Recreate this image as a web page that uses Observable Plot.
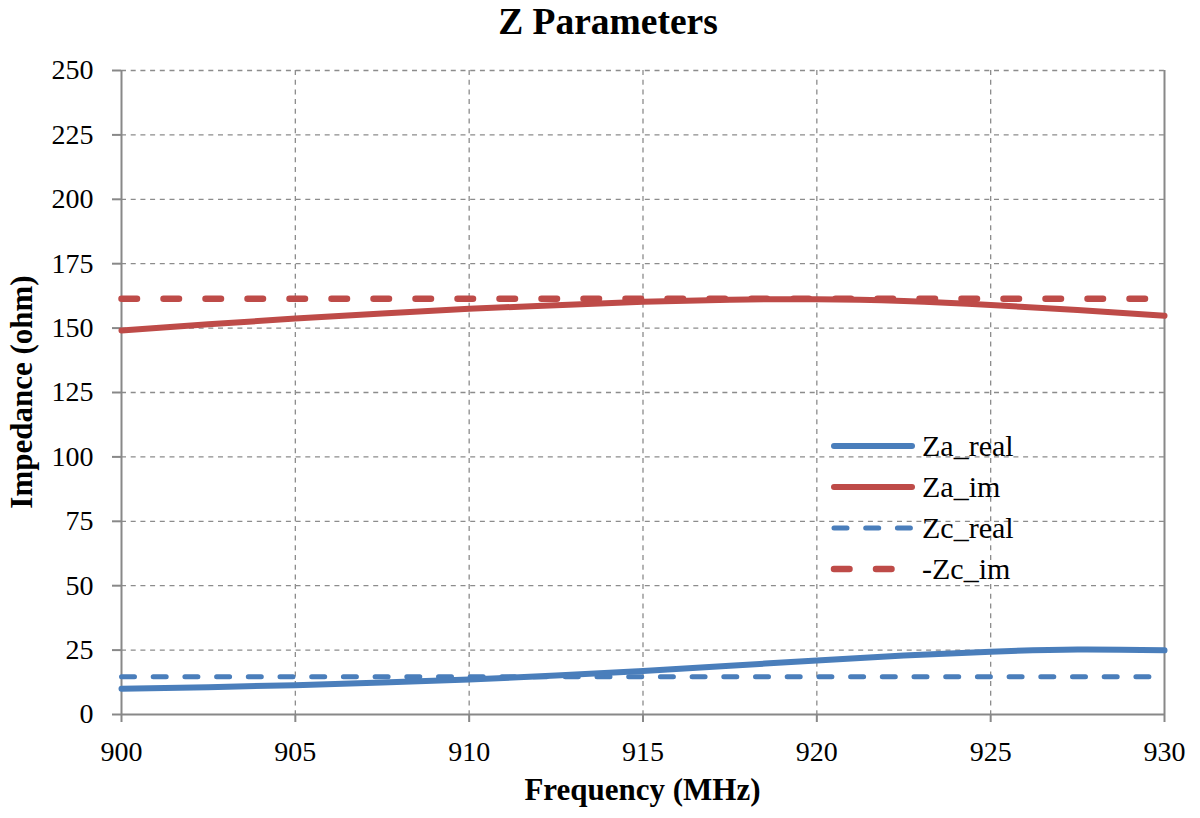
<!DOCTYPE html>
<html>
<head>
<meta charset="utf-8">
<script src="https://cdn.jsdelivr.net/npm/d3@7"></script>
<script src="https://cdn.jsdelivr.net/npm/@observablehq/plot@0.6"></script>
<style>
  html, body { margin: 0; padding: 0; background: #fff; }
  #wrap { position: relative; width: 1200px; height: 818px; font-family: "Liberation Serif", "Times New Roman", serif; }
  #title { position: absolute; left: 0; width: 1216px; top: 0; height: 44px; text-align: center; font-weight: bold; font-size: 37.5px; line-height: 44px; }
  #chart { position: absolute; left: 0; top: 44px; }
  #xlabel { position: absolute; left: 121px; width: 1043px; top: 772px; text-align: center; font-weight: bold; font-size: 31px; line-height: 36px; }
  #ylabel { position: absolute; left: 22px; top: 392px; transform: translate(-50%, -50%) rotate(-90deg); white-space: nowrap; font-weight: bold; font-size: 31px; line-height: 30px; }
  #legend { position: absolute; left: 828px; top: 425px; }
  .lg-row { display: flex; align-items: center; height: 41px; }
  .lg-row span { font-family: "Liberation Serif", "Times New Roman", serif; font-size: 30px; margin-left: 4px; }
</style>
</head>
<body>
<div id="wrap">
  <div id="title">Z Parameters</div>
  <div id="chart"></div>
  <div id="xlabel">Frequency (MHz)</div>
  <div id="ylabel">Impedance (ohm)</div>
  <div id="legend"></div>
</div>
<script>
// ---- data ----
const frequency = [900, 902.5, 905, 907.5, 910, 912.5, 915, 917.5, 920, 922.5, 925, 927.5, 930];
const zaReal = [10.0, 10.6, 11.4, 12.4, 13.6, 15.1, 16.9, 18.9, 21.0, 22.9, 24.4, 25.2, 24.9];
const zaIm = [149.1, 151.5, 153.7, 155.7, 157.5, 158.9, 160.2, 161.0, 161.2, 160.5, 159.0, 157.0, 154.8];
const zcReal = 14.7;
const negZcIm = 161.4;
const seriesNames = ["Za_real", "Za_im", "Zc_real", "-Zc_im"];
const xTicks = [900, 905, 910, 915, 920, 925, 930];
const yTicks = [0, 25, 50, 75, 100, 125, 150, 175, 200, 225, 250];

const blue = "#4A7EBB";
const red = "#BE4B48";
const styles = {
  "Za_real": {stroke: blue, strokeWidth: 6, dash: null},
  "Za_im": {stroke: red, strokeWidth: 6, dash: null},
  "Zc_real": {stroke: blue, strokeWidth: 5, dash: "13,18.7"},
  "-Zc_im": {stroke: red, strokeWidth: 6.5, dash: "15.5,26.5"}
};

const rowsA = frequency.map((f, i) => ({f, v: zaReal[i]}));
const rowsB = frequency.map((f, i) => ({f, v: zaIm[i]}));
const rowsC = [{f: 900, v: zcReal}, {f: 930, v: zcReal}];
const rowsD = [{f: 900, v: negZcIm}, {f: 930, v: negZcIm}];

const font = "'Liberation Serif', 'Times New Roman', serif";
const gridStyle = {stroke: "#8c8c8c", strokeOpacity: 1, strokeWidth: 1.3, strokeDasharray: "5,4.7"};

const chart = Plot.plot({
  width: 1200,
  height: 774,
  marginTop: 26,
  marginBottom: 104,
  marginLeft: 121,
  marginRight: 36,
  style: {fontFamily: font, background: "white", overflow: "visible"},
  x: {domain: [900, 930]},
  y: {domain: [0, 250]},
  marks: [
    Plot.gridY(yTicks.filter(d => d > 0), gridStyle),
    Plot.gridX(xTicks.filter(d => d > 900 && d < 930), gridStyle),
    Plot.ruleY([0], {stroke: "#888", strokeWidth: 2}),
    Plot.ruleX([900, 930], {stroke: "#888", strokeWidth: 2}),
    Plot.axisY(yTicks, {tickSize: 9, tickPadding: 19, stroke: "#888", strokeWidth: 2, fill: "black", fontSize: 28, fontFamily: font, label: null}),
    Plot.axisX(xTicks, {tickSize: 8, tickPadding: 19, stroke: "#888", strokeWidth: 2, fill: "black", fontSize: 28, fontFamily: font, label: null}),
    Plot.line(rowsC, {x: "f", y: "v", stroke: styles["Zc_real"].stroke, strokeWidth: styles["Zc_real"].strokeWidth, strokeDasharray: styles["Zc_real"].dash, strokeLinecap: "round"}),
    Plot.line(rowsD, {x: "f", y: "v", stroke: styles["-Zc_im"].stroke, strokeWidth: styles["-Zc_im"].strokeWidth, strokeDasharray: styles["-Zc_im"].dash, strokeLinecap: "round"}),
    Plot.line(rowsA, {x: "f", y: "v", stroke: styles["Za_real"].stroke, strokeWidth: 6, curve: "natural"}),
    Plot.line(rowsB, {x: "f", y: "v", stroke: styles["Za_im"].stroke, strokeWidth: 6, curve: "natural"})
  ]
});
d3.select(chart).selectAll("text").attr("font-family", font).style("font-family", font);
document.getElementById("chart").appendChild(chart);

// legend
const legend = document.getElementById("legend");
for (const name of seriesNames) {
  const s = styles[name];
  const row = document.createElement("div");
  row.className = "lg-row";
  row.innerHTML = `<svg width="90" height="12"><line x1="6" x2="84" y1="6" y2="6" stroke="${s.stroke}" stroke-width="${s.strokeWidth}" stroke-linecap="round" ${s.dash ? `stroke-dasharray="${s.dash}"` : ""}/></svg><span>${name}</span>`;
  legend.appendChild(row);
}
</script>
</body>
</html>
